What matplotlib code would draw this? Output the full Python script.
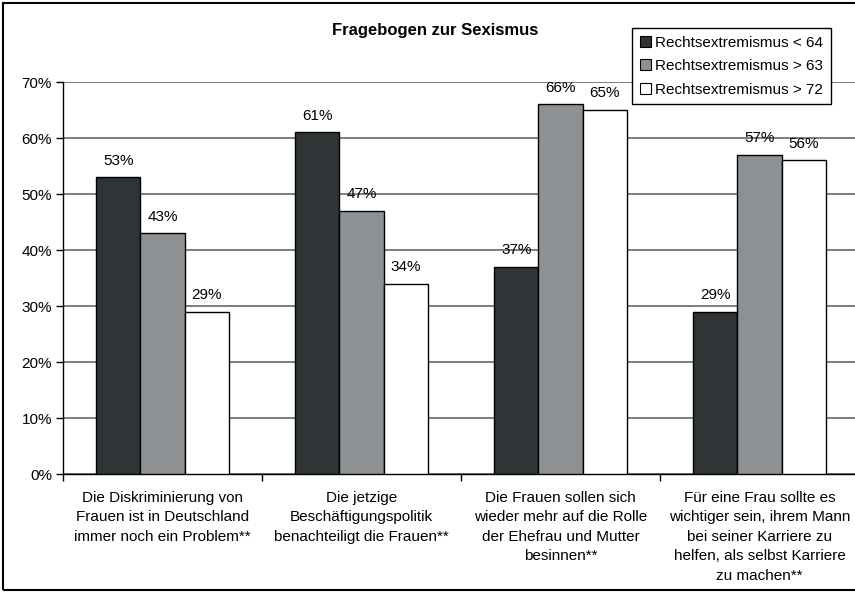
import matplotlib
matplotlib.use("Agg")
import matplotlib.pyplot as plt
from matplotlib.patches import Rectangle, Patch

plt.rcParams['font.family'] = ['Liberation Sans', 'DejaVu Sans']

categories = [
    "Die Diskriminierung von\nFrauen ist in Deutschland\nimmer noch ein Problem**",
    "Die jetzige\nBeschäftigungspolitik\nbenachteiligt die Frauen**",
    "Die Frauen sollen sich\nwieder mehr auf die Rolle\nder Ehefrau und Mutter\nbesinnen**",
    "Für eine Frau sollte es\nwichtiger sein, ihrem Mann\nbei seiner Karriere zu\nhelfen, als selbst Karriere\nzu machen**",
]
series_names = ["Rechtsextremismus < 64", "Rechtsextremismus > 63", "Rechtsextremismus > 72"]
values = {
    "Rechtsextremismus < 64": [53, 61, 37, 29],
    "Rechtsextremismus > 63": [43, 47, 66, 57],
    "Rechtsextremismus > 72": [29, 34, 65, 56],
}
colors = ['#2f3436', '#8d9193', '#ffffff']
yticks = [0, 10, 20, 30, 40, 50, 60, 70]
title = "Fragebogen zur Sexismus"

W, H = 855, 592
fig = plt.figure(figsize=(W / 100, H / 100), dpi=100)
ax = fig.add_axes([63 / W, (H - 474) / H, (859 - 63) / W, 392 / H])

bw = 1 / 4.5
for j, name in enumerate(series_names):
    xs = [i + 0.5 + (j - 1) * bw for i in range(len(categories))]
    vals = values[name]
    ax.bar(xs, vals, width=bw, color=colors[j], edgecolor='black', linewidth=1.0, zorder=3)
    for x, v in zip(xs, vals):
        ax.annotate(f"{v}%", (x, v), xytext=(0, 12), textcoords='offset points',
                    ha='center', va='center', fontsize=11, zorder=4)

ax.set_xlim(0, 4)
ax.set_ylim(0, 70)
ax.set_yticks(yticks)
ax.set_yticklabels([f"{t}%" for t in yticks], fontsize=11)
ax.yaxis.grid(True, color='#5a5a5a', linewidth=1.1, zorder=0)
ax.set_axisbelow(True)
for s in ['top', 'right']:
    ax.spines[s].set_visible(False)
ax.spines['left'].set_linewidth(1.0)
ax.spines['bottom'].set_linewidth(1.0)
ax.tick_params(axis='y', direction='out', length=5, width=1.0, pad=3)
ax.set_xticks([0, 1, 2, 3, 4])
ax.set_xticklabels([])
ax.tick_params(axis='x', which='major', direction='out', length=5, width=1.0)
ax.set_xticks([i + 0.5 for i in range(len(categories))], minor=True)
ax.set_xticklabels(categories, minor=True, fontsize=11, va='top')
ax.tick_params(axis='x', which='minor', length=0, pad=12)
for lbl in ax.get_xticklabels(minor=True):
    lbl.set_linespacing(1.5)

fig.text(435 / W, 1 - 30 / H, title, ha='center', va='center', fontsize=12, fontweight='bold')

handles = [Patch(facecolor=c, edgecolor='black', linewidth=0.8) for c in colors]
leg = ax.legend(handles, series_names, loc='upper left',
                bbox_to_anchor=(632 / W, 1 - 28 / H), bbox_transform=fig.transFigure,
                fontsize=11, frameon=True, fancybox=False, edgecolor='black',
                framealpha=1, borderaxespad=0, handlelength=0.75, handleheight=0.75,
                handletextpad=0.25, labelspacing=0.62, borderpad=0.5)
leg.get_frame().set_linewidth(1.0)
leg.set_zorder(10)

fig.patches.append(Rectangle((3 / W, 2 / H), 1.05, 1 - 5 / H, transform=fig.transFigure,
                             fill=False, edgecolor='black', linewidth=1.5, clip_on=False))

fig.savefig("out.png", dpi=100)
